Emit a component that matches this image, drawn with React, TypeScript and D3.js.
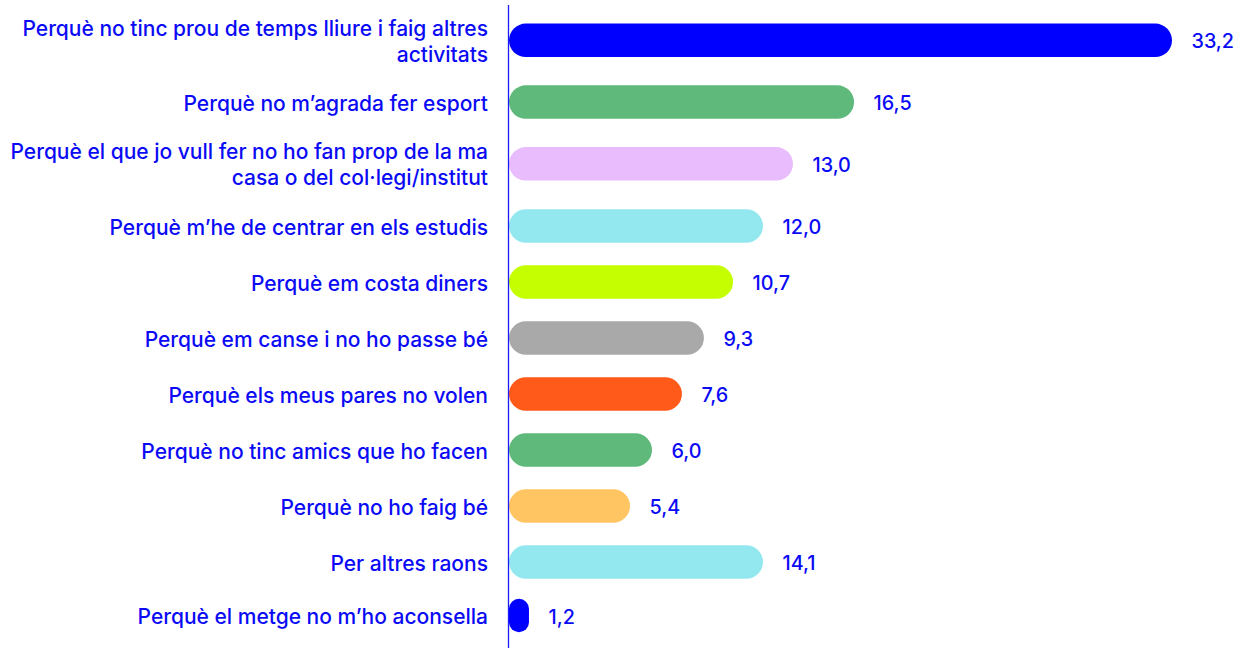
import React from "react";
import * as d3 from "d3";

const categories: string[] = [
  "Perquè no tinc prou de temps lliure i faig altres\nactivitats",
  "Perquè no m’agrada fer esport",
  "Perquè el que jo vull fer no ho fan prop de la ma\ncasa o del col·legi/institut",
  "Perquè m’he de centrar en els estudis",
  "Perquè em costa diners",
  "Perquè em canse i no ho passe bé",
  "Perquè els meus pares no volen",
  "Perquè no tinc amics que ho facen",
  "Perquè no ho faig bé",
  "Per altres raons",
  "Perquè el metge no m’ho aconsella",
];

// Printed values
const valueLabels: string[] = ["33,2", "16,5", "13,0", "12,0", "10,7", "9,3", "7,6", "6,0", "5,4", "14,1", "1,2"];

// Bar lengths as drawn in the picture (same units as the values)
const barLengths: number[] = [33.2, 17.28, 14.22, 12.72, 11.22, 9.76, 8.66, 7.16, 6.06, 12.72, 1.0];

const colors: string[] = [
  "#0000ff",
  "#5fb97b",
  "#e8bcfd",
  "#93e8ef",
  "#c4fe00",
  "#a9a9a9",
  "#ff5a1a",
  "#5fb97b",
  "#ffc563",
  "#93e8ef",
  "#0000ff",
];

const W = 1245;
const H = 648;
const axisX = 508.5;
const barX0 = 509;
const barH = 33.5;
const FONT = "Inter, 'Noto Sans', sans-serif";
const TEXT = "#0a0af5";

export default function App() {
  const x = d3.scaleLinear().domain([0, 33.2]).range([barX0, 1172]);

  const lines = categories.map((c) => c.split("\n"));
  const baseRow = 56.0;
  const extra = 11.5;
  const tops: number[] = [];
  let acc = 6.6;
  lines.forEach((l) => {
    tops.push(acc);
    acc += baseRow + extra * (l.length - 1);
  });
  const centers = lines.map(
    (l, i) => tops[i] + (baseRow + extra * (l.length - 1)) / 2 + (i >= 3 ? 0.4 : 0) - (i === lines.length - 1 ? 2.5 : 0)
  );

  return (
    <svg
      width={W}
      height={H}
      style={{ position: "absolute", left: 0, top: 0, background: "#fff" }}
      fontFamily={FONT}
    >
      {barLengths.map((v, i) => {
        const w = x(v) - barX0;
        const r = Math.min(barH / 2, w / 2);
        return (
          <rect
            key={"b" + i}
            x={barX0}
            y={centers[i] - barH / 2}
            width={w}
            height={barH}
            rx={r}
            ry={r}
            fill={colors[i]}
          />
        );
      })}
      <line x1={axisX} x2={axisX} y1={5} y2={H} stroke="#1a1aff" strokeWidth={1.3} />
      {lines.map((l, i) => (
        <text key={"l" + i} fill={TEXT} fontSize={21} fontWeight={500} textAnchor="end">
          {l.map((s, j) => (
            <tspan
              key={j}
              x={488}
              y={centers[i] + (j - (l.length - 1) / 2) * 26 + 1}
              dominantBaseline="central"
            >
              {s}
            </tspan>
          ))}
        </text>
      ))}
      {valueLabels.map((t, i) => (
        <text
          key={"v" + i}
          x={x(barLengths[i]) + 19.5}
          y={centers[i] + 1}
          fill={TEXT}
          fontSize={19.8}
          fontWeight={500}
          dominantBaseline="central"
        >
          {t}
        </text>
      ))}
    </svg>
  );
}
